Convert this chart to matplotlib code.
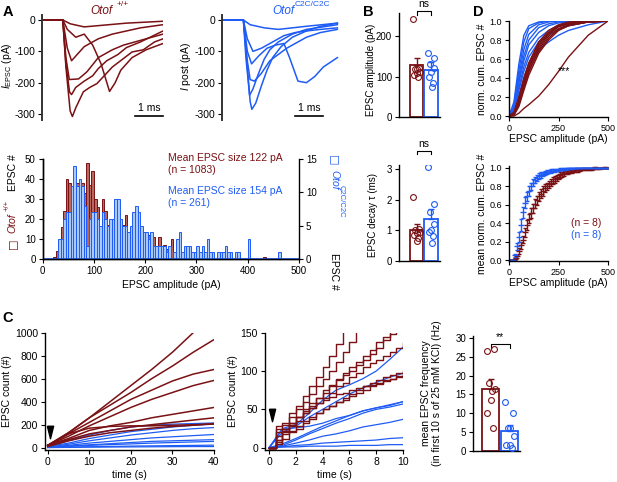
import numpy as np
import matplotlib
matplotlib.use('Agg')
import matplotlib.pyplot as plt

plt.rcParams['font.family'] = ['Liberation Sans', 'DejaVu Sans']
plt.rcParams['font.size'] = 7.5
plt.rcParams['xtick.labelsize'] = 7.5
plt.rcParams['ytick.labelsize'] = 7.5
plt.rcParams['axes.unicode_minus'] = False
plt.rcParams['mathtext.fontset'] = 'custom'
plt.rcParams['mathtext.rm'] = 'Liberation Sans'
plt.rcParams['mathtext.it'] = 'Liberation Sans:italic'
plt.rcParams['axes.linewidth'] = 1.0

RED = '#7a1114'
RED_FILL = '#b8685e'
BLUE = '#1f5cf5'
BLUE_FILL = '#a9c9fb'

# ---- A: example EPSC traces (time ms, current pA) ----
wt_traces = [
    [(0, 0), (0.74, 0), (1.0, -12), (1.5, -22), (2.0, -18), (3.0, -10), (4.3, -4)],
    [(0, 0), (0.74, 0), (0.9, -90), (1.05, -130), (1.2, -115), (1.5, -85), (2.0, -60),
     (2.5, -45), (3.0, -35), (3.5, -25), (4.3, -15)],
    [(0, 0), (0.74, 0), (0.85, -120), (0.97, -190), (1.3, -188), (1.6, -165), (2.0, -120),
     (2.5, -95), (2.9, -80), (3.5, -65), (4.1, -50), (4.3, -45)],
    [(0, 0), (0.74, 0), (0.85, -140), (0.98, -230), (1.05, -238), (1.2, -215), (1.5, -195),
     (1.8, -178), (2.0, -155), (2.3, -130), (2.7, -110), (3.0, -88), (3.5, -70), (4.3, -35)],
    [(0, 0), (0.74, 0), (0.85, -150), (1.0, -290), (1.08, -308), (1.2, -280), (1.47, -229),
     (1.7, -215), (1.95, -203), (2.5, -150), (3.2, -102), (3.6, -95), (4.0, -70), (4.3, -60)],
    [(0, 0), (0.74, 0), (0.9, -30), (1.2, -55), (1.5, -45), (1.8, -80), (2.1, -140),
     (2.4, -228), (2.6, -200), (2.8, -160), (3.2, -120), (3.7, -95), (4.3, -75)],
]
c2c_traces = [
    [(0, 0), (0.76, 0), (0.9, -150), (1.0, -260), (1.06, -285), (1.2, -265), (1.4, -210),
     (1.6, -160), (1.8, -120), (2.1, -85), (2.5, -55), (3.0, -35), (3.5, -20), (4.1, -10)],
    [(0, 0), (0.76, 0), (0.85, -120), (0.98, -240), (1.1, -220), (1.3, -170), (1.5, -125),
     (1.7, -95), (2.0, -70), (2.5, -45), (3.0, -30), (4.1, -15)],
    [(0, 0), (0.76, 0), (0.9, -130), (1.0, -190), (1.15, -195), (1.4, -170), (1.7, -130),
     (2.0, -110), (2.3, -90), (2.6, -75), (3.0, -55), (3.5, -40), (4.1, -30)],
    [(0, 0), (0.76, 0), (0.9, -100), (1.05, -140), (1.3, -115), (1.6, -90), (1.9, -80),
     (2.2, -75), (2.4, -120), (2.7, -195), (3.0, -200), (3.3, -180), (3.6, -150), (4.1, -120)],
    [(0, 0), (0.76, 0), (1.0, -15), (1.5, -25), (2.0, -30), (2.5, -25), (3.0, -20), (4.1, -10)],
    [(0, 0), (0.76, 0), (0.9, -60), (1.1, -100), (1.4, -90), (1.8, -70), (2.2, -50),
     (2.6, -40), (3.0, -35), (3.5, -30), (4.1, -25)],
]

# ---- A: amplitude histogram, 5 pA bins from 0 to 500 ----
bin_starts = np.arange(0, 500, 5)
wt_hist = [0, 0, 0, 0, 1, 4, 9, 16, 24, 40, 38, 33, 30, 38, 39, 38, 33, 48, 37, 44,
           30, 26, 16, 30, 24, 17, 19, 13, 17, 11, 19, 17, 22, 13, 16, 14, 18, 10, 14, 11,
           13, 12, 9, 11, 6, 11, 5, 7, 5, 4, 10, 1, 0, 0, 1, 0, 1, 0, 1, 0,
           0, 0, 0, 0, 0, 0, 0, 0, 0, 0, 0, 0, 0, 0, 0, 0, 0, 0, 0, 0,
           1, 0, 0, 0, 0, 0, 1, 0, 0, 0, 0, 0, 0, 0, 0, 0, 0, 0, 0, 0]
c2c_hist = [0, 0, 0, 0, 0, 0, 3, 3, 6, 7, 7, 11, 14, 11, 12, 11, 8, 2, 6, 7,
            7, 6, 5, 7, 6, 5, 6, 6, 9, 9, 6, 5, 5, 4, 5, 7, 8, 7, 5, 4,
            4, 3, 4, 2, 2, 2, 2, 2, 1, 2, 0, 1, 3, 4, 1, 2, 2, 2, 1, 1,
            2, 1, 2, 1, 3, 1, 1, 0, 1, 1, 1, 2, 1, 1, 0, 1, 1, 0, 0, 0,
            3, 0, 0, 0, 0, 0, 0, 0, 0, 0, 0, 0, 1, 0, 0, 0, 0, 0, 0, 0]

# ---- B: per-cell amplitude and decay ----
wt_amp = [243, 122, 118, 112, 108, 104, 100, 118]
c2c_amp = [157, 145, 132, 120, 110, 100, 85, 75]
amp_mean = [128, 115]
amp_sem = [17, 20]
wt_decay = [2.08, 1.05, 1.0, 0.95, 0.9, 0.85, 0.75, 0.65]
c2c_decay = [3.05, 1.85, 1.6, 1.2, 1.0, 0.95, 0.8, 0.6]
decay_mean = [1.02, 1.38]
decay_sem = [0.2, 0.32]

# ---- C: cumulative EPSC counts, 0-40 s (5 s steps) ----
t_long = [0, 5, 10, 15, 20, 25, 30, 35, 40]
wt_long = [
    [20, 130, 260, 400, 540, 680, 830, 1000, 1160],
    [20, 130, 260, 370, 480, 600, 710, 830, 940],
    [20, 120, 220, 320, 420, 500, 580, 640, 680],
    [20, 100, 190, 270, 350, 420, 480, 540, 585],
    [20, 80, 150, 190, 220, 260, 290, 320, 350],
    [20, 70, 120, 150, 180, 200, 220, 240, 260],
    [20, 120, 170, 185, 190, 190, 195, 200, 205],
    [10, 60, 100, 130, 150, 170, 185, 195, 210],
]
c2c_long = [
    [10, 60, 110, 150, 180, 195, 205, 210, 215],
    [10, 40, 80, 110, 140, 160, 180, 195, 205],
    [5, 30, 60, 85, 110, 130, 150, 165, 175],
    [5, 20, 40, 55, 70, 85, 95, 105, 115],
    [5, 15, 25, 35, 45, 55, 60, 65, 70],
    [5, 12, 20, 27, 33, 40, 45, 50, 55],
    [2, 5, 8, 11, 14, 16, 18, 20, 22],
    [1, 3, 5, 6, 7, 8, 9, 10, 10],
]

# ---- C: first 10 s ----
t_short_wt = [0, 0.5, 1, 1.5, 2, 2.5, 3, 3.5, 4, 4.5, 5, 5.5, 6, 6.5, 7, 7.5, 8, 8.5, 9, 9.5, 10]
wt_short = [
    [0, 28, 32, 45, 55, 68, 80, 92, 105, 120, 135, 152, 168, 182, 198, 212, 228, 242, 258, 272, 288],
    [0, 25, 30, 40, 50, 60, 70, 80, 90, 100, 112, 125, 138, 152, 165, 178, 190, 205, 218, 230, 245],
    [0, 10, 22, 30, 40, 48, 55, 65, 75, 82, 90, 98, 105, 112, 120, 128, 138, 145, 152, 160, 168],
    [0, 15, 25, 32, 40, 50, 58, 65, 72, 80, 88, 95, 100, 108, 115, 122, 130, 140, 148, 155, 162],
    [0, 8, 20, 28, 35, 45, 52, 58, 65, 72, 80, 85, 92, 98, 105, 110, 115, 120, 125, 130, 137],
    [0, 5, 12, 20, 25, 32, 38, 45, 50, 55, 60, 62, 68, 72, 75, 80, 83, 87, 90, 93, 97],
    [0, 20, 25, 32, 40, 45, 52, 58, 62, 66, 70, 72, 75, 78, 80, 82, 85, 88, 90, 92, 95],
    [0, 10, 18, 22, 28, 35, 40, 45, 50, 55, 60, 65, 70, 75, 80, 85, 88, 92, 95, 98, 100],
]
t_short_c2c = [0, 1, 2, 3, 4, 5, 6, 7, 8, 9, 10]
c2c_short = [
    [0, 25, 30, 45, 62, 75, 82, 90, 100, 115, 131],
    [0, 20, 28, 40, 50, 60, 70, 78, 85, 92, 97],
    [0, 5, 12, 20, 28, 35, 42, 48, 52, 56, 60],
    [0, 3, 10, 18, 25, 32, 38, 45, 50, 53, 57],
    [0, 2, 6, 10, 15, 18, 22, 27, 30, 33, 37],
    [0, 1, 3, 4, 6, 7, 8, 9, 10, 12, 13],
    [0, 1, 1, 2, 2, 2, 3, 3, 3, 4, 4],
    [0, 24, 26, 28, 32, 38, 42, 48, 52, 55, 60],
]

# ---- C: mean frequency ----
wt_freq = [26.5, 27, 18, 16.5, 13.5, 10, 6, 16]
c2c_freq = [13, 10, 6, 4, 1.5, 1.5, 0.8, 6]
freq_mean = [16.5, 5.2]
freq_sem = [2.7, 1.6]

# ---- D: per-cell cumulative distributions ----
cum_x = [0, 25, 50, 75, 100, 150, 200, 250, 300, 400, 500]
wt_cum = [
    [0, 0.02, 0.15, 0.33, 0.5, 0.72, 0.86, 0.94, 0.97, 0.99, 1.0],
    [0, 0.01, 0.12, 0.3, 0.46, 0.7, 0.84, 0.92, 0.96, 0.99, 1.0],
    [0, 0.03, 0.18, 0.38, 0.55, 0.76, 0.88, 0.95, 0.98, 1.0, 1.0],
    [0, 0.02, 0.14, 0.31, 0.48, 0.68, 0.82, 0.91, 0.95, 0.99, 1.0],
    [0, 0.04, 0.2, 0.4, 0.56, 0.78, 0.9, 0.96, 0.99, 1.0, 1.0],
    [0, 0.01, 0.1, 0.27, 0.43, 0.66, 0.8, 0.9, 0.95, 0.99, 1.0],
    [0, 0.03, 0.16, 0.35, 0.52, 0.74, 0.87, 0.94, 0.97, 0.99, 1.0],
    [0, 0.0, 0.03, 0.08, 0.12, 0.21, 0.33, 0.47, 0.62, 0.85, 1.0],
]
c2c_cum = [
    [0, 0.15, 0.55, 0.85, 0.95, 0.99, 1.0, 1.0, 1.0, 1.0, 1.0],
    [0, 0.12, 0.48, 0.78, 0.92, 0.98, 1.0, 1.0, 1.0, 1.0, 1.0],
    [0, 0.1, 0.42, 0.7, 0.86, 0.96, 0.99, 1.0, 1.0, 1.0, 1.0],
    [0, 0.08, 0.38, 0.63, 0.8, 0.93, 0.97, 0.99, 1.0, 1.0, 1.0],
    [0, 0.07, 0.35, 0.58, 0.75, 0.88, 0.95, 0.98, 0.99, 1.0, 1.0],
    [0, 0.06, 0.3, 0.52, 0.67, 0.82, 0.9, 0.95, 0.98, 1.0, 1.0],
    [0, 0.05, 0.27, 0.47, 0.62, 0.78, 0.86, 0.91, 0.95, 0.99, 1.0],
    [0, 0.04, 0.22, 0.4, 0.55, 0.7, 0.78, 0.85, 0.9, 0.96, 1.0],
]

# ---- D: mean cumulative distributions, 10 pA steps ----
mean_x = np.arange(0, 510, 10)
wt_mean_cum = [0, 0, 0, 0.01, 0.04, 0.1, 0.16, 0.22, 0.3, 0.38, 0.45, 0.51, 0.56, 0.61, 0.65,
               0.69, 0.72, 0.75, 0.78, 0.8, 0.82, 0.84, 0.86, 0.875, 0.89, 0.905, 0.92, 0.93,
               0.94, 0.948, 0.955, 0.96, 0.965, 0.97, 0.975, 0.978, 0.981, 0.984, 0.985, 0.988,
               0.99, 0.991, 0.992, 0.994, 0.995, 0.996, 0.997, 0.998, 0.999, 0.999, 1.0]
wt_mean_err = [0, 0, 0, 0.01, 0.02, 0.03, 0.04, 0.04, 0.05, 0.05, 0.05, 0.05, 0.05, 0.05, 0.05,
               0.05, 0.05, 0.05, 0.04, 0.04, 0.04, 0.04, 0.04, 0.04, 0.03, 0.03, 0.03, 0.03,
               0.03, 0.02, 0.02, 0.02, 0.02, 0.02, 0.02, 0.02, 0.01, 0.01, 0.01, 0.01,
               0.01, 0.01, 0.01, 0.01, 0.01, 0.005, 0.005, 0.005, 0.005, 0.005, 0]
c2c_mean_cum = [0, 0, 0, 0.05, 0.15, 0.25, 0.38, 0.52, 0.62, 0.69, 0.75, 0.8, 0.84, 0.87, 0.89,
                0.91, 0.92, 0.935, 0.945, 0.955, 0.96, 0.965, 0.97, 0.974, 0.978, 0.981, 0.985,
                0.988, 0.99, 0.991, 0.993, 0.994, 0.995, 0.996, 0.997, 0.997, 0.998, 0.998,
                0.998, 0.999, 0.999, 0.999, 0.999, 1.0, 1.0, 1.0, 1.0, 1.0, 1.0, 1.0, 1.0]
c2c_mean_err = [0, 0, 0, 0.02, 0.04, 0.05, 0.06, 0.06, 0.06, 0.05, 0.05, 0.04, 0.04, 0.03, 0.03,
                0.03, 0.03, 0.02, 0.02, 0.02, 0.02, 0.02, 0.015, 0.015, 0.01, 0.01, 0.01,
                0.01, 0.01, 0.01, 0.005, 0.005, 0.005, 0.005, 0.005, 0.005, 0.003, 0.003,
                0.003, 0.002, 0.002, 0.002, 0.002, 0, 0, 0, 0, 0, 0, 0, 0]

W, H = 617, 482
fig = plt.figure(figsize=(W / 100, H / 100), dpi=100)


def box(x0, y0, x1, y1):
    return fig.add_axes([x0 / W, 1 - y1 / H, (x1 - x0) / W, (y1 - y0) / H])


def ftext(x, y, s, **kw):
    fig.text(x / W, 1 - y / H, s, **kw)


def place_ylabel(ax, text, px, py, **kw):
    # y label whose right edge sits at figure pixel px, centred on py
    x0, y0, w, h = ax.get_position().bounds
    ax.set_ylabel(text, **kw)
    ax.yaxis.set_label_coords((px / W - x0) / w, ((1 - py / H) - y0) / h)


def clean(ax, size=7.5):
    ax.spines['top'].set_visible(False)
    ax.spines['right'].set_visible(False)
    ax.tick_params(direction='out', length=3, width=0.8, pad=2, labelsize=size)


def bar_panel(ax, wt_vals, c2c_vals, means, sems):
    ax.bar([1, 2], means, width=0.92, color='white', edgecolor=[RED, BLUE], linewidth=1.3, zorder=1)
    for x, m, s, c in zip([1, 2], means, sems, [RED, BLUE]):
        ax.errorbar([x], [m], yerr=[[0], [s]], color=c, capsize=2, lw=1, capthick=1, zorder=2)
    jit = [-0.22, 0.18, -0.1, 0.22, 0.0, -0.18, 0.12, 0.05]
    ax.plot([1 + j for j in jit], wt_vals, 'o', mfc='none', mec=RED, ms=4.2, mew=0.8, zorder=3)
    ax.plot([2 + j for j in jit], c2c_vals, 'o', mfc='none', mec=BLUE, ms=4.2, mew=0.8, zorder=3)
    ax.set_xticks([])
    clean(ax, 7)


def bracket(ax, y, h, label):
    ax.plot([1, 1, 2, 2], [y - h, y, y, y - h], color='k', lw=0.8, clip_on=False)
    ax.text(1.5, y + h * 0.4, label, ha='center', va='bottom', fontsize=7.5)


# ================= A traces =================
trace_panels = [
    (42, wt_traces, RED, r'$I_{\mathrm{EPSC}}$ (pA)', 3.3, 14),
    (222, c2c_traces, BLUE, r'$I$ post (pA)', 2.6, 193),
]
for x0, traces, col, lab, bar_t, lab_x in trace_panels:
    ax = box(x0, 15.3, x0 + 121, 120.3)
    for tr in traces:
        t, v = zip(*tr)
        ax.plot(t, v, color=col, lw=1.1)
    ax.set_xlim(0, 4.3)
    ax.set_ylim(-320, 15)
    ax.set_yticks([0, -100, -200, -300])
    ax.set_xticks([])
    clean(ax, 7.5)
    ax.spines['bottom'].set_visible(False)
    ax.spines['left'].set_color('#333333')
    ax.spines['left'].set_linewidth(1.4)
    place_ylabel(ax, lab, lab_x, 66)
    # 1 ms scale bar
    ax.plot([bar_t, bar_t + 1], [-306, -306], color='k', lw=1.2, clip_on=False)
    ax.text(bar_t + 0.5, -298, '1 ms', ha='center', va='bottom')

ftext(101, 11, 'Otof', color=RED, style='italic', fontsize=8.5, ha='center', va='center')
ftext(123, 5, '+/+', color=RED, fontsize=6, ha='center', va='center')
ftext(283, 11, 'Otof', color=BLUE, style='italic', fontsize=8.5, ha='center', va='center')
ftext(312, 5, 'C2C/C2C', color=BLUE, fontsize=6, ha='center', va='center')

# ================= A histogram =================
axh = box(42.7, 159, 299, 259)
axh.bar(bin_starts, wt_hist, width=5, align='edge', color=RED_FILL, edgecolor=RED, linewidth=0.7)
axh.set_xlim(0, 500)
axh.set_ylim(0, 50)
axh.set_xticks(range(0, 501, 100))
axh.set_yticks(range(0, 51, 10))
clean(axh, 7)
axh.set_xlabel('EPSC amplitude (pA)', labelpad=3)
axh2 = axh.twinx()
axh2.bar(bin_starts, c2c_hist, width=5, align='edge', color=BLUE_FILL, edgecolor=BLUE, linewidth=0.7)
axh2.plot([0, 500], [0, 0], color=BLUE, lw=1.2)
axh2.set_ylim(0, 15)
axh2.set_yticks([0, 5, 10, 15])
axh2.spines['top'].set_visible(False)
axh2.tick_params(direction='out', length=3, width=0.8, pad=2, labelsize=7)
axh.text(245, 47.5, 'Mean EPSC size 122 pA\n(n = 1083)', color=RED, ha='left', va='center',
         linespacing=1.3)
axh.text(245, 31, 'Mean EPSC size 154 pA\n(n = 261)', color=BLUE, ha='left', va='center',
         linespacing=1.3)

ftext(12, 244, '\u25a1', color=RED, fontsize=8, rotation=90, ha='center', va='center',
      family=['DejaVu Sans'])
ftext(12, 223, 'Otof', color=RED, style='italic', rotation=90, ha='center', va='center')
ftext(7, 205, '+/+', color=RED, rotation=90, fontsize=5.5, ha='center', va='center')
ftext(13, 173, 'EPSC #', color='k', rotation=90, ha='center', va='center')
ftext(334, 160, '\u25a1', color=BLUE, fontsize=8, rotation=-90, ha='center', va='center',
      family=['DejaVu Sans'])
ftext(334, 180, 'Otof', color=BLUE, style='italic', rotation=-90, ha='center', va='center')
ftext(341, 201, 'C2C/C2C', color=BLUE, rotation=-90, fontsize=5.5, ha='center', va='center')
ftext(334, 271, 'EPSC #', color='k', rotation=-90, ha='center', va='center')

# ================= B =================
axb1 = box(399, 13, 440, 117)
bar_panel(axb1, wt_amp, c2c_amp, amp_mean, amp_sem)
axb1.set_xlim(-0.2, 2.6)
axb1.set_ylim(0, 257)
axb1.set_yticks([0, 100, 200])
place_ylabel(axb1, 'EPSC amplitude (pA)', 376, 70, fontsize=7)
bracket(axb1, 262, 10, 'ns')

axb2 = box(399, 165, 440, 261)
bar_panel(axb2, wt_decay, c2c_decay, decay_mean, decay_sem)
axb2.set_xlim(-0.2, 2.6)
axb2.set_ylim(0, 3.13)
axb2.set_yticks([0, 1, 2, 3])
place_ylabel(axb2, 'EPSC decay \u03c4 (ms)', 378, 215, fontsize=7)
bracket(axb2, 3.6, 0.12, 'ns')

# ================= C =================
arrow_marker = [(-0.5, 1), (0.5, 1), (0, -1), (-0.5, 1)]

axc1 = box(44.8, 332.7, 214, 450)
for y in c2c_long:
    axc1.plot(t_long, y, color=BLUE, lw=0.9)
for y in wt_long:
    axc1.plot(t_long, y, color=RED, lw=1.1)
axc1.plot([0.5], [135], marker=arrow_marker, ms=9, color='k', ls='none')
axc1.set_xlim(-0.7, 40)
axc1.set_ylim(-20, 1000)
axc1.set_xticks([0, 10, 20, 30, 40])
axc1.set_yticks(range(0, 1001, 200))
clean(axc1)
axc1.set_xlabel('time (s)', labelpad=2)
axc1.set_ylabel('EPSC count (#)', labelpad=2)

axc2 = box(265, 332.7, 403, 450)
for y in c2c_short:
    axc2.plot(t_short_c2c, y, color=BLUE, lw=0.9)
for y in wt_short:
    axc2.plot(t_short_wt, y, color=RED, lw=1.0, drawstyle='steps-post')
axc2.plot([0.25], [43], marker=arrow_marker, ms=9, color='k', ls='none')
axc2.set_xlim(-0.3, 10)
axc2.set_ylim(-3, 150)
axc2.set_xticks([0, 2, 4, 6, 8, 10])
axc2.set_yticks([0, 50, 100, 150])
clean(axc2)
axc2.set_xlabel('time (s)', labelpad=2)
axc2.set_ylabel('EPSC count (#)', labelpad=2)

axc3 = box(473, 336, 520, 450.7)
bar_panel(axc3, wt_freq, c2c_freq, freq_mean, freq_sem)
axc3.set_xlim(0.05, 2.56)
axc3.set_ylim(0, 30.6)
axc3.set_yticks(range(0, 31, 5))
place_ylabel(axc3, 'mean EPSC frequency\n(in first 10 s of 25 mM KCl) (Hz)', 442, 393,
             linespacing=1.1)
bracket(axc3, 28.5, 1.0, '**')

# ================= D =================
axd1 = box(509, 21, 608, 117)
for y in c2c_cum:
    axd1.plot(cum_x, y, color=BLUE, lw=1)
for y in wt_cum:
    axd1.plot(cum_x, y, color=RED, lw=1)
axd1.set_xlim(0, 500)
axd1.set_ylim(-0.01, 1.0)
axd1.set_xticks([0, 250, 500])
axd1.set_yticks(np.arange(0, 1.01, 0.2))
axd1.yaxis.set_major_formatter('{x:.1f}')
clean(axd1, 6.5)
axd1.text(280, 0.47, '***', ha='center', va='center')
axd1.set_xlabel('EPSC amplitude (pA)', labelpad=1)
axd1.set_ylabel('norm. cum. EPSC #', labelpad=2)

axd2 = box(509, 166, 608, 261)
axd2.errorbar(mean_x, wt_mean_cum, yerr=wt_mean_err, fmt='_', color=RED, ms=4, lw=1, capsize=1.5)
axd2.errorbar(mean_x, c2c_mean_cum, yerr=c2c_mean_err, fmt='_', color=BLUE, ms=4, lw=1, capsize=1.5)
axd2.set_xlim(0, 500)
axd2.set_ylim(-0.01, 1.02)
axd2.set_xticks([0, 250, 500])
axd2.set_yticks(np.arange(0, 1.01, 0.2))
axd2.yaxis.set_major_formatter('{x:.1f}')
clean(axd2, 6.5)
axd2.text(390, 0.4, '(n = 8)', color=RED, ha='center', va='center')
axd2.text(390, 0.27, '(n = 8)', color=BLUE, ha='center', va='center')
axd2.set_xlabel('EPSC amplitude (pA)', labelpad=1)
axd2.set_ylabel('mean norm. cum. EPSC #', labelpad=2)

# panel letters
for lab, x, y in [('A', 8, 12), ('B', 368, 12), ('C', 8, 318), ('D', 478, 12)]:
    ftext(x, y, lab, fontsize=10.5, fontweight='bold', ha='center', va='center')

fig.savefig('out.png', dpi=100)
